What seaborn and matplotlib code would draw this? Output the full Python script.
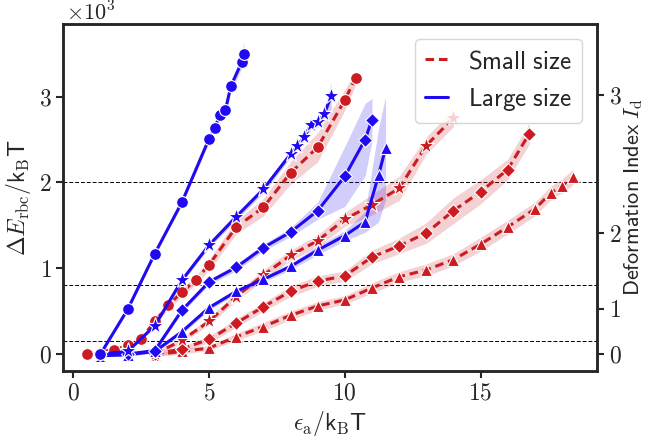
import numpy as np
import pandas as pd
import seaborn as sns
import matplotlib.pyplot as plt
from matplotlib.lines import Line2D
from matplotlib.ticker import FuncFormatter

# ---- data (energies in units of 10^3 kBT) ----
# large size (blue, solid)
large_circle_x = [1, 2, 3, 4, 5, 5.2, 5.4, 5.6, 5.8, 6.2, 6.28]
large_circle_y = [0.0, 0.52, 1.17, 1.77, 2.51, 2.63, 2.79, 2.84, 3.12, 3.40, 3.50]
large_circle_s = [0.01, 0.02, 0.02, 0.03, 0.04, 0.05, 0.06, 0.08, 0.06, 0.07, 0.14]

large_star_x = [1, 2, 3, 4, 5, 6, 7, 8, 8.25, 8.5, 8.75, 9, 9.25, 9.5]
large_star_y = [0.0, 0.03, 0.33, 0.86, 1.27, 1.60, 1.92, 2.33, 2.42, 2.53, 2.67, 2.70, 2.80, 3.01]
large_star_s = [0.01, 0.01, 0.02, 0.03, 0.03, 0.04, 0.04, 0.04, 0.04, 0.05, 0.05, 0.06, 0.08, 0.15]

large_diamond_x = [1, 2, 3, 4, 5, 6, 7, 8, 9, 10, 10.75, 11]
large_diamond_y = [0.0, 0.0, 0.04, 0.51, 0.84, 1.01, 1.24, 1.42, 1.67, 2.07, 2.50, 2.73]
large_diamond_s = [0.01, 0.01, 0.02, 0.03, 0.03, 0.04, 0.04, 0.05, 0.10, 0.35, 0.42, 0.25]

large_tri_x = [1, 2, 3, 4, 5, 6, 7, 8, 9, 10, 10.75, 11.25, 11.5]
large_tri_y = [-0.02, -0.01, 0.03, 0.26, 0.54, 0.73, 0.87, 1.02, 1.21, 1.38, 1.54, 2.09, 2.40]
large_tri_s = [0.01, 0.01, 0.02, 0.03, 0.03, 0.03, 0.03, 0.04, 0.05, 0.06, 0.12, 0.55, 0.60]

# small size (red, dashed)
small_circle_x = [0.5, 1.5, 2, 2.5, 3, 3.5, 4, 4.5, 5, 6, 7, 8, 9, 10, 10.4]
small_circle_y = [0.0, 0.05, 0.10, 0.18, 0.38, 0.57, 0.72, 0.86, 1.04, 1.48, 1.71, 2.11, 2.41, 2.96, 3.22]
small_circle_s = [0.01, 0.02, 0.02, 0.03, 0.04, 0.05, 0.05, 0.05, 0.06, 0.08, 0.10, 0.13, 0.17, 0.12, 0.08]

small_star_x = [3, 4, 5, 6, 7, 8, 9, 10, 11, 12, 13, 14]
small_star_y = [0.0, 0.16, 0.38, 0.67, 0.92, 1.15, 1.32, 1.57, 1.74, 1.93, 2.43, 2.75]
small_star_s = [0.02, 0.03, 0.04, 0.05, 0.06, 0.06, 0.07, 0.08, 0.12, 0.14, 0.10, 0.10]

small_diamond_x = [3, 4, 5, 6, 7, 8, 9, 10, 11, 12, 13, 14, 15, 16, 16.8]
small_diamond_y = [0.0, 0.06, 0.17, 0.36, 0.55, 0.73, 0.85, 0.91, 1.13, 1.26, 1.41, 1.67, 1.89, 2.15, 2.57]
small_diamond_s = [0.02, 0.03, 0.04, 0.05, 0.05, 0.06, 0.06, 0.06, 0.08, 0.09, 0.12, 0.15, 0.14, 0.12, 0.12]

small_tri_x = [3, 4, 5, 6, 7, 8, 9, 10, 11, 12, 13, 14, 15, 16, 17, 17.6, 18, 18.4]
small_tri_y = [-0.01, 0.03, 0.07, 0.20, 0.32, 0.45, 0.56, 0.63, 0.77, 0.90, 0.98,
               1.10, 1.28, 1.48, 1.69, 1.88, 1.96, 2.06]
small_tri_s = [0.02, 0.03, 0.03, 0.04, 0.05, 0.05, 0.05, 0.05, 0.06, 0.06, 0.07,
               0.07, 0.08, 0.08, 0.08, 0.08, 0.08, 0.09]

# deformation index axis (right): tick positions on the energy axis
id_tick_pos = [0.0, 0.53, 1.41, 3.02]
id_tick_lab = ["0", "1", "2", "3"]
ref_lines = [2.0, 0.8, 0.148]

RED = "#cc1c22"
BLUE = "#1f0af2"

sns.set_theme(style="ticks")
plt.rcParams["mathtext.fontset"] = "cm"
plt.rcParams["font.family"] = ["Lato", "DejaVu Sans"]

fig, ax = plt.subplots(figsize=(6.5, 4.45), dpi=100)
fig.subplots_adjust(left=0.0974, right=0.918, top=0.946, bottom=0.1663)

series = [
    (small_tri_x, small_tri_y, small_tri_s, "^", "small"),
    (small_diamond_x, small_diamond_y, small_diamond_s, "D", "small"),
    (small_star_x, small_star_y, small_star_s, "*", "small"),
    (small_circle_x, small_circle_y, small_circle_s, "o", "small"),
    (large_tri_x, large_tri_y, large_tri_s, "^", "large"),
    (large_diamond_x, large_diamond_y, large_diamond_s, "D", "large"),
    (large_star_x, large_star_y, large_star_s, "*", "large"),
    (large_circle_x, large_circle_y, large_circle_s, "o", "large"),
]

msize = {"o": 8.5, "D": 7, "^": 8, "*": 12.5}

for xs, ys, ss, mk, size in series:
    xs, ys, ss = np.array(xs), np.array(ys), np.array(ss)
    col = RED if size == "small" else BLUE
    ls = (0, (2.8, 1.6)) if size == "small" else "-"
    ax.fill_between(xs, ys - ss, ys + ss, color=col, alpha=0.2, lw=0)
    df = pd.DataFrame({"eps": xs, "dE": ys})
    sns.lineplot(data=df, x="eps", y="dE", ax=ax, color=col, lw=2.2, linestyle=ls,
                 marker=mk, markersize=msize[mk], markeredgecolor="white",
                 markeredgewidth=0.8, sort=False)

for yv in ref_lines:
    ax.axhline(yv, color="black", lw=0.7, ls=(0, (4, 2)), zorder=0)

ax.set_xlim(-0.37, 19.28)
ax.set_ylim(-0.198, 3.846)
ax.set_xticks([0, 5, 10, 15])
ax.set_yticks([0, 1, 2, 3])
fmt = FuncFormatter(lambda v, p: f"${v:g}$")
ax.xaxis.set_major_formatter(fmt)
ax.yaxis.set_major_formatter(fmt)
ax.tick_params(labelsize=17, width=1.5, length=5, color="#262626")
ax.set_xlabel(r"$\epsilon_\mathrm{a}/\mathsf{k}_\mathrm{B}\mathsf{T}$", fontsize=17, labelpad=4)
ax.set_ylabel(r"$\Delta E_\mathrm{rbc}/\mathsf{k}_\mathrm{B}\mathsf{T}$", fontsize=17, labelpad=4)
ax.text(0.005, 1.0, r"$\times10^3$", transform=ax.transAxes, fontsize=16,
        ha="left", va="bottom")

for sp in ax.spines.values():
    sp.set_visible(True)
    sp.set_linewidth(1.8)
    sp.set_color("#262626")

ax2 = ax.twinx()
ax2.set_ylim(ax.get_ylim())
ax2.set_yticks(id_tick_pos)
ax2.set_yticklabels([rf"$\mathsf{{{t}}}$" for t in id_tick_lab])
ax2.tick_params(labelsize=17, width=1.5, length=5, color="#262626")
ax2.set_ylabel(r"$\mathsf{Deformation\ Index}\ I_\mathrm{d}$", fontsize=16, labelpad=1)
for sp in ax2.spines.values():
    sp.set_linewidth(1.8)
    sp.set_color("#262626")

handles = [Line2D([], [], color=RED, lw=2.2, ls=(0, (2.8, 1.6))),
           Line2D([], [], color=BLUE, lw=2.2, ls="-")]
leg = ax.legend(handles, [r"$\mathsf{Small\ size}$", r"$\mathsf{Large\ size}$"],
                loc="upper right", fontsize=18, handlelength=0.9, frameon=True,
                fancybox=True, borderaxespad=0.6, labelspacing=0.55)
leg.get_frame().set_edgecolor("#cccccc")

fig.savefig("out.png", dpi=100)
